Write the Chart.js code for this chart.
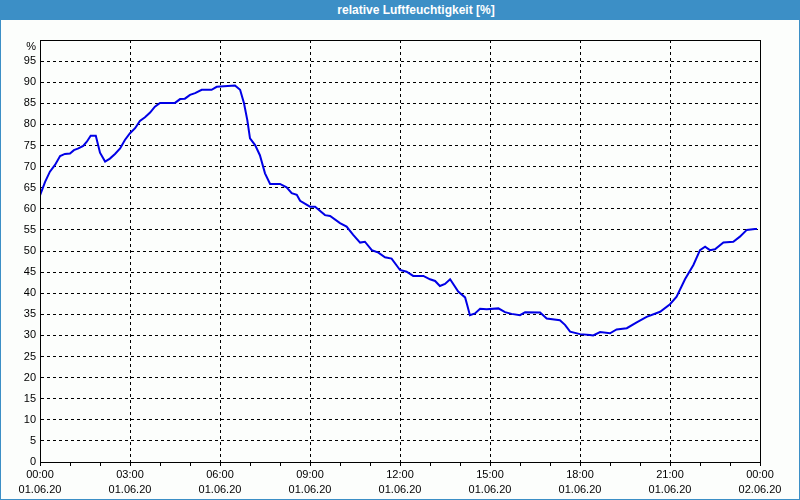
<!DOCTYPE html>
<html lang="de">
<head>
  <meta charset="UTF-8" />
  <title>relative Luftfeuchtigkeit</title>
  <script src="https://cdn.jsdelivr.net/npm/chart.js@4.4.0/dist/chart.umd.min.js"></script>
  <style>
    * { box-sizing: border-box; }
    body { margin: 0; background: #ffffff; }
    .frame {
      width: 800px; height: 500px;
      border: 1px solid #3c8fc6;
      background: #fcfefc;
      font-family: "Liberation Sans", "DejaVu Sans", sans-serif;
    }
    .titlebar {
      height: 19px;
      background: #3c8fc6;
      color: #ffffff;
      font-weight: bold;
      font-size: 12px;
      line-height: 19px;
      text-align: center;
      padding-left: 32px;
    }
    .plot { position: relative; width: 798px; height: 479px; }
  </style>
</head>
<body>
  <div class="frame">
    <div class="titlebar">relative Luftfeuchtigkeit [%]</div>
    <div class="plot"><canvas id="humChart"></canvas></div>
  </div>

  <script>
    // time of day in hours since 01.06.20 00:00
    const hours = [
      0.0, 0.17, 0.33, 0.5, 0.67, 0.83, 1.0, 1.13, 1.28, 1.44, 1.56, 1.69, 1.86,
      2.0, 2.17, 2.33, 2.5, 2.67, 2.83, 3.0, 3.17, 3.33, 3.5, 3.67, 3.83, 4.0,
      4.5, 4.67, 4.83, 5.0, 5.17, 5.39, 5.72, 5.89, 6.5, 6.67, 6.8, 6.91, 7.0,
      7.17, 7.33, 7.5, 7.67, 8.0, 8.22, 8.39, 8.56, 8.67, 9.0, 9.17, 9.5, 9.67,
      10.0, 10.22, 10.44, 10.67, 10.83, 11.06, 11.28, 11.5, 11.72, 12.0, 12.22,
      12.44, 12.78, 13.0, 13.17, 13.33, 13.5, 13.67, 13.94, 14.17, 14.24, 14.33,
      14.5, 14.67, 14.89, 15.28, 15.5, 15.72, 16.0, 16.17, 16.67, 16.89, 17.33,
      17.5, 17.67, 18.0, 18.33, 18.44, 18.67, 19.0, 19.22, 19.56, 19.89, 20.22,
      20.67, 21.0, 21.22, 21.5, 21.78, 22.0, 22.17, 22.33, 22.5, 22.78, 23.11,
      23.33, 23.56, 23.83, 23.9
    ];
    const humidity = [
      63.2, 66.4, 68.8, 70.4, 72.5, 73.0, 73.1, 73.9, 74.3, 74.9, 75.9, 77.3, 77.3,
      73.3, 71.2, 71.9, 73.0, 74.3, 76.3, 77.9, 79.1, 80.8, 81.7, 82.8, 84.2, 85.1,
      85.1, 86.0, 86.1, 87.0, 87.4, 88.2, 88.2, 88.9, 89.2, 88.2, 85.0, 81.0, 76.7,
      75.1, 72.7, 68.4, 65.9, 65.9, 65.1, 63.7, 63.3, 61.9, 60.5, 60.5, 58.5, 58.3,
      56.6, 55.8, 53.8, 52.0, 52.2, 50.2, 49.6, 48.5, 48.2, 45.5, 45.1,
      44.1, 44.1, 43.3, 42.9, 41.7, 42.2, 43.3, 40.4, 39.0, 37.2, 34.8,
      35.2, 36.3, 36.2, 36.4, 35.5, 35.1, 34.8, 35.5, 35.4, 34.0, 33.6,
      32.5, 30.9, 30.3, 30.1, 30.0, 30.8, 30.5, 31.4, 31.7, 33.1, 34.4,
      35.6, 37.4, 39.2, 43.3, 46.7, 50.2, 51.0, 50.2, 50.4, 52.0, 52.2,
      53.4, 55.0, 55.2, 55.2
    ];
    const xTickTimes = ["00:00", "03:00", "06:00", "09:00", "12:00", "15:00", "18:00", "21:00", "00:00"];
    const xTickDates = ["01.06.20", "01.06.20", "01.06.20", "01.06.20", "01.06.20", "01.06.20", "01.06.20", "01.06.20", "02.06.20"];

    const points = hours.map((h, i) => ({ x: h, y: humidity[i] }));

    // solid frame around the plot area
    const frameBox = {
      id: "frameBox",
      afterDraw(chart) {
        const a = chart.chartArea, ctx = chart.ctx;
        ctx.save();
        ctx.strokeStyle = "#000";
        ctx.lineWidth = 1;
        ctx.strokeRect(Math.round(a.left) + 0.5, Math.round(a.top) + 0.5,
                       Math.round(a.right - a.left), Math.round(a.bottom - a.top));
        ctx.restore();
      }
    };

    const font = { family: "'Liberation Sans', 'DejaVu Sans', sans-serif", size: 11 };

    new Chart(document.getElementById("humChart"), {
      type: "line",
      data: {
        datasets: [{
          data: points,
          borderColor: "#0000e6",
          borderWidth: 2,
          pointRadius: 0,
          tension: 0,
          fill: false
        }]
      },
      options: {
        responsive: true,
        maintainAspectRatio: false,
        animation: false,
        layout: { padding: { top: 20, right: 39, left: 0, bottom: 0 } },
        plugins: { legend: { display: false }, tooltip: { enabled: false } },
        scales: {
          x: {
            type: "linear",
            min: 0,
            max: 24,
            afterFit(scale) { scale.height = 37; },
            border: { color: "#000", width: 1, dash: [3, 3] },
            grid: {
              color: (c) => (c.tick && c.tick.value % 3 === 0 && c.tick.value > 0 && c.tick.value < 24) ? "#000" : "rgba(0,0,0,0)",
              tickColor: "#000",
              tickLength: 4,
              drawTicks: true
            },
            ticks: {
              stepSize: 1,
              autoSkip: false,
              maxRotation: 0,
              padding: 1,
              color: "#000",
              font: { ...font, lineHeight: 1.4 },
              callback: (v) => v % 3 === 0 ? [xTickTimes[v / 3], xTickDates[v / 3]] : ""
            }
          },
          y: {
            min: 0,
            max: 100,
            afterFit(scale) { scale.width = 39; },
            border: { color: "#000", width: 1, dash: [3, 3] },
            grid: {
              color: (c) => (c.tick && c.tick.value > 0 && c.tick.value < 100) ? "#000" : "rgba(0,0,0,0)",
              drawTicks: false
            },
            ticks: {
              stepSize: 5,
              autoSkip: false,
              padding: 4,
              color: "#000",
              font: font,
              // the unit sits just below the top edge
              callback: (v) => v === 100 ? ["", "%"] : v
            }
          }
        }
      },
      plugins: [frameBox]
    });
  </script>
</body>
</html>
